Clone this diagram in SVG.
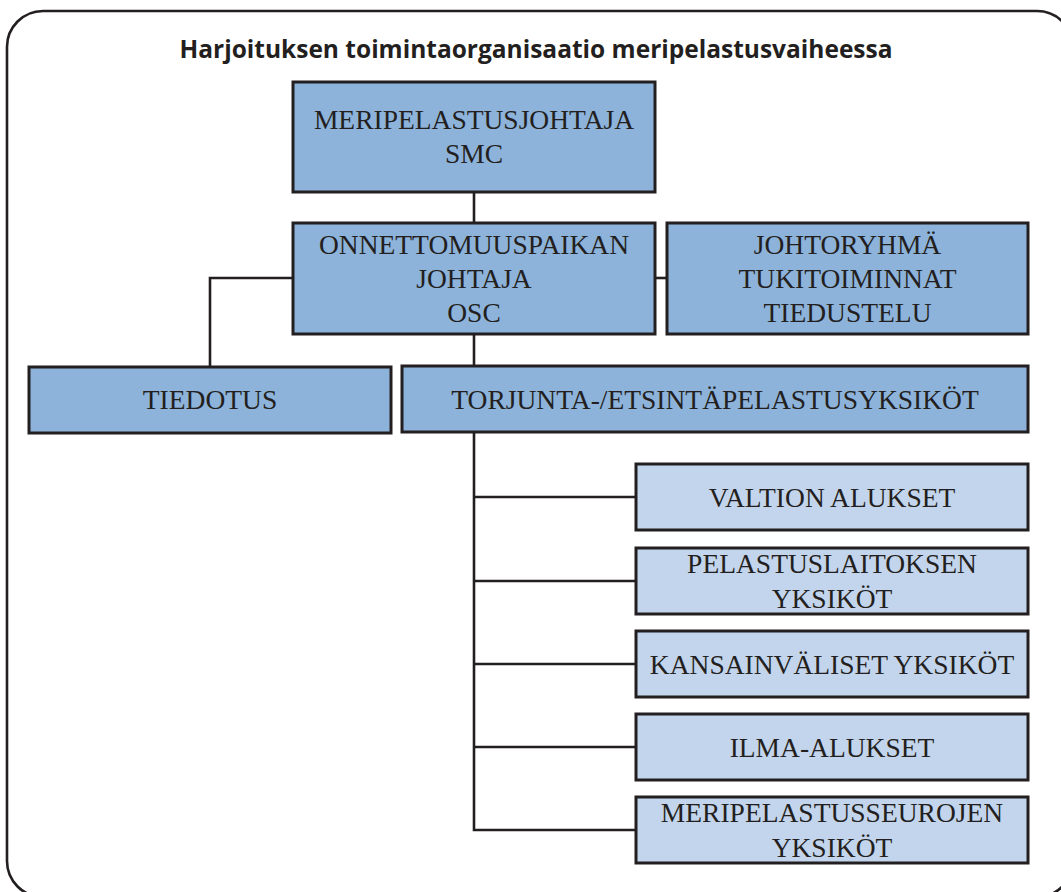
<svg xmlns="http://www.w3.org/2000/svg" width="1061" height="892" viewBox="0 0 1061 892">
<style>
.frame{fill:none;stroke:#231f20;stroke-width:2.6}
.b1{fill:#8db3db;stroke:#231f20;stroke-width:3}
.b2{fill:#c3d5ec;stroke:#231f20;stroke-width:3}
.t{font-family:"Liberation Serif","Times New Roman",serif;font-size:27.5px;fill:#231f20;text-anchor:middle}
.title{font-family:"Open Sans","Liberation Sans",sans-serif;font-weight:700;font-size:24.5px;fill:#231f20;text-anchor:middle}
.c{fill:none;stroke:#231f20;stroke-width:2.6}
</style>
<rect class="frame" x="7" y="11" width="1066" height="886" rx="36" ry="36"/>
<text class="title" x="536" y="58">Harjoituksen toimintaorganisaatio meripelastusvaiheessa</text>
<g id="connectors">
<line class="c" x1="474" y1="192" x2="474" y2="223"/>
<line class="c" x1="655" y1="278" x2="667" y2="278"/>
<polyline class="c" points="293,278 210,278 210,367"/>
<line class="c" x1="474" y1="334" x2="474" y2="366"/>
<polyline class="c" points="474,432 474,830 636,830"/>
<line class="c" x1="474" y1="497" x2="636" y2="497"/>
<line class="c" x1="474" y1="581" x2="636" y2="581"/>
<line class="c" x1="474" y1="664" x2="636" y2="664"/>
<line class="c" x1="474" y1="747" x2="636" y2="747"/>
</g>
<g id="smc">
<rect class="b1" x="293" y="82" width="362" height="110"/>
<text class="t" x="474" y="129">MERIPELASTUSJOHTAJA</text>
<text class="t" x="474" y="163">SMC</text>
</g>
<g id="osc">
<rect class="b1" x="293" y="223" width="362" height="111"/>
<text class="t" x="474" y="254">ONNETTOMUUSPAIKAN</text>
<text class="t" x="474" y="288">JOHTAJA</text>
<text class="t" x="474" y="322">OSC</text>
</g>
<g id="johtoryhma">
<rect class="b1" x="667" y="223" width="361" height="111"/>
<text class="t" x="847.5" y="254">JOHTORYHMÄ</text>
<text class="t" x="847.5" y="288">TUKITOIMINNAT</text>
<text class="t" x="847.5" y="322">TIEDUSTELU</text>
</g>
<g id="tiedotus">
<rect class="b1" x="29" y="367" width="362" height="66"/>
<text class="t" x="210" y="409">TIEDOTUS</text>
</g>
<g id="torjunta">
<rect class="b1" x="402" y="366" width="626" height="66"/>
<text class="t" x="715" y="409">TORJUNTA-/ETSINTÄPELASTUSYKSIKÖT</text>
</g>
<g id="valtion">
<rect class="b2" x="636" y="464" width="392" height="66"/>
<text class="t" x="832" y="507">VALTION ALUKSET</text>
</g>
<g id="pelastuslaitos">
<rect class="b2" x="636" y="548" width="392" height="66"/>
<text class="t" x="832" y="573">PELASTUSLAITOKSEN</text>
<text class="t" x="832" y="608">YKSIKÖT</text>
</g>
<g id="kansainvaliset">
<rect class="b2" x="636" y="631" width="392" height="66"/>
<text class="t" x="832" y="674">KANSAINVÄLISET YKSIKÖT</text>
</g>
<g id="ilma">
<rect class="b2" x="636" y="714" width="392" height="66"/>
<text class="t" x="832" y="757">ILMA-ALUKSET</text>
</g>
<g id="meripelastusseurat">
<rect class="b2" x="636" y="797" width="392" height="66"/>
<text class="t" x="832" y="822">MERIPELASTUSSEUROJEN</text>
<text class="t" x="832" y="857">YKSIKÖT</text>
</g>
</svg>
